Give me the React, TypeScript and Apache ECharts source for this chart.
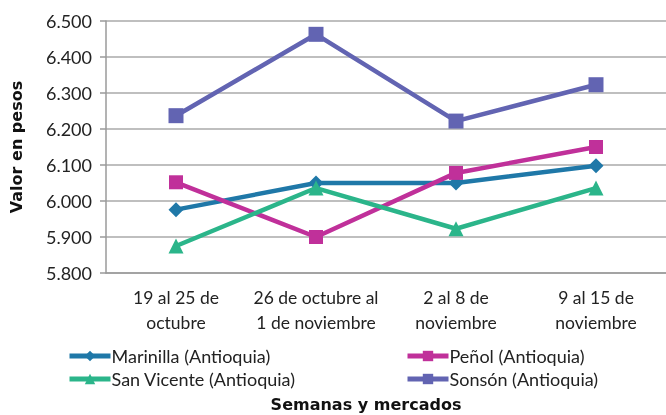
import React, { useEffect, useRef } from "react";
import * as echarts from "echarts";

const categories = [
  "19 al 25 de\noctubre",
  "26 de octubre al\n1 de noviembre",
  "2 al 8 de\nnoviembre",
  "9 al 15 de\nnoviembre",
];
const marinilla = [5.976, 6.05, 6.05, 6.098];
const penol = [6.052, 5.9, 6.078, 6.15];
const sanVicente = [5.875, 6.036, 5.923, 6.036];
const sonson = [6.237, 6.463, 6.222, 6.323];

const FONT = "Lato, 'Open Sans', sans-serif";
const BOLD = "'DejaVu Sans', sans-serif";

export default function App() {
  const ref = useRef<HTMLDivElement>(null);
  useEffect(() => {
    if (!ref.current) return;
    const chart = echarts.init(ref.current, undefined, { renderer: "svg" });
    const mk = (name: string, data: number[], color: string, symbol: string, size: number) => ({
      name,
      type: "line",
      data,
      symbol,
      symbolSize: size,
      lineStyle: { color, width: 4.5 },
      itemStyle: { color },
      emphasis: { disabled: true },
    });
    const legendText = { fontSize: 18, lineHeight: 18, color: "#222", fontFamily: FONT, padding: [0, 0, 0, -4] };
    const legendBase = {
      orient: "vertical",
      top: 347,
      padding: 0,
      itemWidth: 41,
      itemHeight: 13,
      itemGap: 5,
      textStyle: legendText,
      lineStyle: { width: 5 },
    };
    chart.setOption({
      animation: false,
      textStyle: { fontFamily: FONT },
      grid: { left: 102, top: 21, width: 572, height: 252 },
      xAxis: {
        type: "category",
        data: categories,
        boundaryGap: true,
        axisLine: { lineStyle: { color: "#9a9a9a", width: 1.5 } },
        axisTick: { show: false },
        axisLabel: { color: "#222", fontSize: 17.5, lineHeight: 25, margin: 12, fontFamily: FONT, interval: 0 },
      },
      yAxis: {
        type: "value",
        min: 5.8,
        max: 6.5,
        interval: 0.1,
        name: "Valor en pesos",
        nameLocation: "middle",
        nameRotate: 90,
        nameGap: 82,
        nameTextStyle: { fontSize: 16, fontWeight: "bold", color: "#111", fontFamily: BOLD, padding: [0, 0, 0, 0] },
        axisLine: { show: true, lineStyle: { color: "#9a9a9a", width: 1.5 } },
        axisTick: { show: true, length: 6, lineStyle: { color: "#9a9a9a", width: 1.5 } },
        splitLine: { lineStyle: { color: "#aaaaaa", width: 1.5 } },
        axisLabel: {
          color: "#222",
          fontSize: 18,
          margin: 14,
          fontFamily: FONT,
          formatter: (v: number) => v.toFixed(3),
        },
      },
      legend: [
        { ...legendBase, data: ["Marinilla (Antioquia)", "San Vicente (Antioquia)"], left: 67 },
        { ...legendBase, data: ["Peñol (Antioquia)", "Sonsón (Antioquia)"], left: 405 },
      ],
      graphic: [
        {
          type: "text",
          x: 366,
          y: 404,
          style: {
            text: "Semanas y mercados",
            fontSize: 16,
            fontWeight: "bold",
            fill: "#111",
            fontFamily: BOLD,
            textAlign: "center",
            textVerticalAlign: "middle",
          },
        },
      ],
      series: [
        mk("Marinilla (Antioquia)", marinilla, "#1f78a8", "diamond", 15),
        mk("Peñol (Antioquia)", penol, "#c0309a", "rect", 14),
        mk("San Vicente (Antioquia)", sanVicente, "#2bb58a", "triangle", 15),
        mk("Sonsón (Antioquia)", sonson, "#6264b2", "rect", 15),
      ],
    });
    return () => chart.dispose();
  }, []);
  return <div ref={ref} style={{ position: "fixed", left: 0, top: 0, width: 666, height: 415 }} />;
}
